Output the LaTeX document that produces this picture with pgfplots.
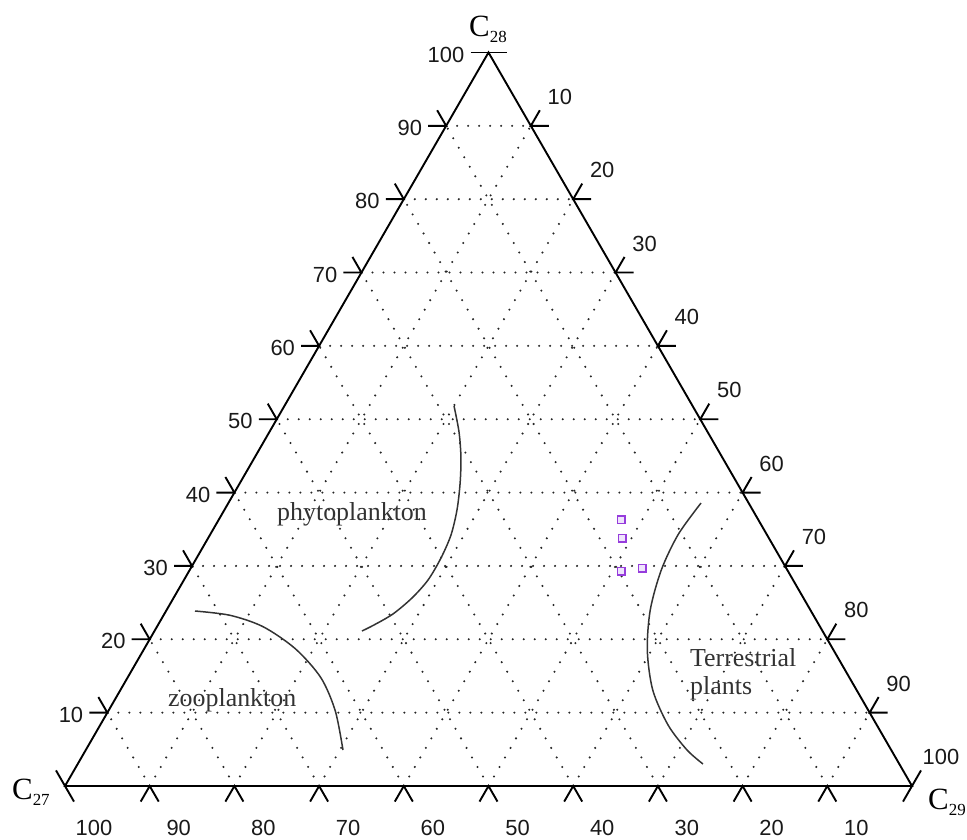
\documentclass[border=0pt]{standalone}
\usepackage{pgfplots}
\usepackage{pgfplotstable}
\usepackage{fontspec}
\pgfplotsset{compat=1.18}
\setmainfont{Liberation Serif}
\newfontfamily\arial{Liberation Sans}
\definecolor{sq}{RGB}{150,60,220}
\definecolor{sqfill}{RGB}{238,228,252}
\definecolor{txt}{RGB}{50,50,50}
\tikzset{
  mytick/.style={line width=1.9bp, black},
  griddot/.style={line width=2.3bp, black!85, line cap=round, dash pattern=on 0bp off 11bp},
  tl/.style={font=\arial\fontsize{22}{24}\selectfont, inner sep=0pt, text=black!90},
  myarc/.style={line width=1.5bp, black!80, smooth},
}

% samples (ternary percentages)
\pgfplotstableread{
C27 C28 C29
16.2 36.3 47.5
17.3 33.8 48.9
19.7 29.3 51.0
17.0 29.7 53.3
}\samples

\begin{document}
\begin{tikzpicture}
\useasboundingbox (0,0) rectangle (967bp,840bp);
\begin{axis}[
  at={(0,0)}, anchor=south west,
  xmin=-7.674, xmax=106.494, ymin=-6.375, ymax=92.798,
  width=967bp, height=840bp, scale only axis,
  hide axis, clip=false,
]
% grid lines
\pgfplotsinvokeforeach{10,20,...,90}{
  \draw[griddot] (axis cs:{0.5*#1},{0.8660254*#1}) -- (axis cs:{100-0.5*#1},{0.8660254*#1});
  \draw[griddot] (axis cs:#1,0) -- (axis cs:{50+0.5*#1},{86.60254-0.8660254*#1});
  \draw[griddot] (axis cs:{100-#1},0) -- (axis cs:{50-0.5*#1},{86.60254-0.8660254*#1});
}
% triangle
\draw[line width=1.9bp, line join=miter] (axis cs:0,0) -- (axis cs:100,0) -- (axis cs:50,86.60254) -- cycle;
% left ticks (C28)
\pgfplotsinvokeforeach{10,20,...,90}{
  \draw[mytick] ([xshift=-18bp]axis cs:{0.5*#1},{0.8660254*#1}) -- (axis cs:{0.5*#1},{0.8660254*#1}) -- ++(120:18bp);
}
\pgfplotsinvokeforeach{10,20,...,100}{
  \node[tl, anchor=east] at ([xshift=-24bp,yshift=-2bp]axis cs:{0.5*#1},{0.8660254*#1}) {#1};
}
\draw[mytick] ([xshift=-18bp]axis cs:50,86.60254) -- ([xshift=18bp]axis cs:50,86.60254);
% right ticks (C29)
\pgfplotsinvokeforeach{10,20,...,90}{
  \draw[mytick] ([xshift=18bp]axis cs:{50+0.5*#1},{86.60254-0.8660254*#1}) -- (axis cs:{50+0.5*#1},{86.60254-0.8660254*#1}) -- ++(60:18bp);
}
\pgfplotsinvokeforeach{10,20,...,100}{
  \node[tl] at ([xshift=29bp,yshift=29bp]axis cs:{50+0.5*#1},{86.60254-0.8660254*#1}) {#1};
}
\draw[mytick] ([shift={(240:18bp)}]axis cs:100,0) -- ++(60:36bp);
% bottom ticks (C27)
\pgfplotsinvokeforeach{10,20,...,90}{
  \draw[mytick] ([shift={(240:18bp)}]axis cs:{100-#1},0) -- (axis cs:{100-#1},0) -- ++(300:18bp);
}
\pgfplotsinvokeforeach{10,20,...,100}{
  \node[tl] at ([xshift=29bp,yshift=-42bp]axis cs:{100-#1},0) {#1};
}
\draw[mytick] ([shift={(120:18bp)}]axis cs:0,0) -- ++(300:36bp);

% vertex labels
\node[anchor=base west, inner sep=0pt, font=\fontsize{31}{31}\selectfont] at (axis cs:47.70,88.43) {C\raisebox{-6bp}{\fontsize{17}{17}\selectfont 28}};
\node[anchor=base west, inner sep=0pt, font=\fontsize{31}{31}\selectfont] at (axis cs:-6.26,-1.65) {C\raisebox{-6bp}{\fontsize{17}{17}\selectfont 27}};
\node[anchor=base west, inner sep=0pt, font=\fontsize{31}{31}\selectfont] at (axis cs:101.89,-2.83) {C\raisebox{-6bp}{\fontsize{17}{17}\selectfont 29}};

% region boundaries
\addplot[myarc, no marks] coordinates {(45.93,44.86) (46.52,41.79) (46.75,38.72) (46.64,35.66) (46.28,32.59) (45.57,29.63) (44.39,26.92) (42.86,24.32) (40.97,22.20) (38.72,20.31) (36.48,19.01) (35.06,18.30)};
\addplot[myarc, no marks] coordinates {(15.35,20.66) (19.50,20.15) (23.40,18.80) (27.20,16.20) (30.20,12.80) (31.90,8.90) (32.82,4.25)};
\addplot[myarc, no marks] coordinates {(75.09,33.41) (72.40,29.70) (70.40,25.50) (69.10,20.80) (68.75,16.00) (69.40,11.30) (71.20,7.20) (73.44,4.25) (75.32,2.60)};

% region labels
\node[anchor=base west, inner sep=0pt, text=txt, font=\fontsize{26}{26}\selectfont] at (axis cs:25.03,31.40) {phytoplankton};
\node[anchor=base west, inner sep=0pt, text=txt, font=\fontsize{26}{26}\selectfont] at (axis cs:12.16,9.33) {zooplankton};
\node[anchor=base west, inner sep=0pt, text=txt, font=\fontsize{26}{26}\selectfont] at (axis cs:73.79,14.05) {Terrestrial};
\node[anchor=base west, inner sep=0pt, text=txt, font=\fontsize{26}{26}\selectfont] at (axis cs:73.79,10.86) {plants};

% samples
\addplot[only marks, mark=square*, mark size=3.8bp, mark options={draw=sq, fill=sqfill, line width=1.4bp}]
  table[x expr=\thisrow{C29}+0.5*\thisrow{C28}, y expr=0.8660254*\thisrow{C28}] {\samples};
\end{axis}
\end{tikzpicture}
\end{document}
